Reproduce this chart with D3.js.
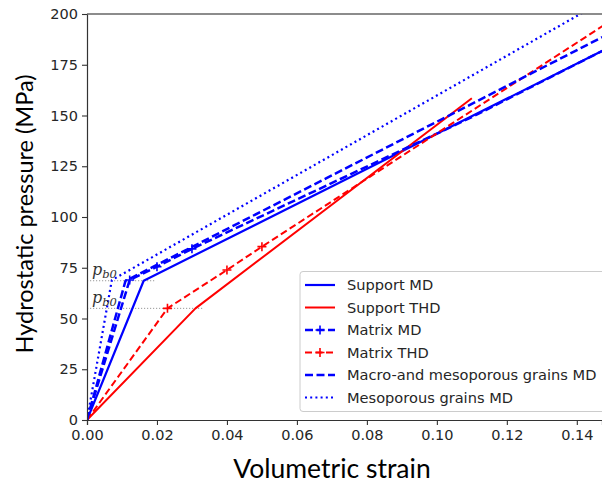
<!DOCTYPE html>
<html><head><meta charset="utf-8">
<script src="https://cdn.jsdelivr.net/npm/d3@7"></script>
<style>body{margin:0;background:#fff}svg{display:block}</style>
</head><body>
<svg id="c" width="602" height="484"></svg>
<script>
// ---- data ----
const xTicks = [0, 0.02, 0.04, 0.06, 0.08, 0.10, 0.12, 0.14];
const yTicks = [0, 25, 50, 75, 100, 125, 150, 175, 200];

const supportMD_x = [0, 0.0162, 0.150];
const supportMD_y = [0, 68.6, 184.2];

const supportTHD_x = [0, 0.031, 0.110];
const supportTHD_y = [0, 55, 158.5];

const matrixMD_x = [0, 0.0122, 0.020, 0.030, 0.110, 0.150];
const matrixMD_y = [0, 69.0, 75.5, 84.3, 149.2, 184.2];
const matrixMD_markX = [0.0122, 0.020, 0.030];
const matrixMD_markY = [69.0, 75.5, 84.3];

const matrixTHD_x = [0, 0.023, 0.040, 0.050, 0.150];
const matrixTHD_y = [0, 55.0, 73.9, 85.4, 197.0];
const matrixTHD_markX = [0.023, 0.040, 0.050];
const matrixTHD_markY = [55.0, 73.9, 85.4];

const macroMD_x = [0, 0.011, 0.150];
const macroMD_y = [0, 68.5, 191.0];

const mesoMD_x = [0, 0.0071, 0.150];
const mesoMD_y = [0, 68.9, 208.8];

const pb0_levels = [68.6, 55];
const pb0_ends = [0.0195, 0.033];

const legendLabels = ["Support MD", "Support THD", "Matrix MD", "Matrix THD",
  "Macro-and mesoporous grains MD", "Mesoporous grains MD"];

// ---- layout ----
const svg = d3.select("#c");
const L = 87, R = 602, T = 14, B = 420;
const x = d3.scaleLinear().domain([0, 0.1472]).range([L, R]);
const y = d3.scaleLinear().domain([0, 200]).range([B, T]);

const BLUE = "#0000ff", RED = "#ff0000";
const series = [
  {xs: supportMD_x, ys: supportMD_y, color: BLUE, dash: null, w: 2.2},
  {xs: supportTHD_x, ys: supportTHD_y, color: RED, dash: null, w: 2},
  {xs: matrixMD_x, ys: matrixMD_y, color: BLUE, dash: "8,3.5", w: 2.5, mx: matrixMD_markX, my: matrixMD_markY},
  {xs: matrixTHD_x, ys: matrixTHD_y, color: RED, dash: "7,3.5", w: 2, mx: matrixTHD_markX, my: matrixTHD_markY},
  {xs: macroMD_x, ys: macroMD_y, color: BLUE, dash: "8,3.5", w: 2.5},
  {xs: mesoMD_x, ys: mesoMD_y, color: BLUE, dash: "2,3.2", w: 2.2}
];

svg.append("defs").append("clipPath").attr("id", "clip")
  .append("rect").attr("x", L).attr("y", T).attr("width", R - L).attr("height", B - T);

const plot = svg.append("g").attr("clip-path", "url(#clip)");

// pb0 reference lines
pb0_levels.forEach((lv, i) => {
  plot.append("line").attr("x1", x(0)).attr("x2", x(pb0_ends[i]))
    .attr("y1", y(lv)).attr("y2", y(lv))
    .attr("stroke", "#999").attr("stroke-width", 1).attr("stroke-dasharray", "1.2,1.8");
});

const line = d3.line().x(d => x(d[0])).y(d => y(d[1]));
series.forEach(s => {
  const pts = s.xs.map((v, i) => [v, s.ys[i]]);
  plot.append("path").attr("d", line(pts)).attr("fill", "none")
    .attr("stroke", s.color).attr("stroke-width", s.w)
    .attr("stroke-linejoin", "round")
    .attr("stroke-dasharray", s.dash);
  if (s.mx) {
    s.mx.forEach((mv, i) => {
      const cx = x(mv), cy = y(s.my[i]);
      plot.append("path").attr("d", `M${cx-4.5},${cy}H${cx+4.5}M${cx},${cy-4.5}V${cy+4.5}`)
        .attr("stroke", s.color).attr("stroke-width", 1.6);
    });
  }
});

// p_b0 labels
[[92, 275], [92, 303]].forEach(p => {
  const t = svg.append("text").attr("x", p[0]).attr("y", p[1])
    .attr("font-family", "DejaVu Serif").attr("font-size", 16).attr("fill", "#333");
  t.append("tspan").attr("font-style", "italic").text("p");
  t.append("tspan").attr("font-style", "italic").attr("font-size", 11.5).attr("dy", 3).text("b0");
});

// axes
const FONT = "DejaVu Sans";
const xAxis = svg.append("g").attr("transform", `translate(0,${B})`)
  .call(d3.axisBottom(x).tickValues(xTicks).tickFormat(d3.format(".2f")).tickSize(5).tickPadding(5));
const yAxis = svg.append("g").attr("transform", `translate(${L},0)`)
  .call(d3.axisLeft(y).tickValues(yTicks).tickFormat(d3.format("d")).tickSize(5).tickPadding(4));
[xAxis, yAxis].forEach(a => {
  a.selectAll("text").attr("font-family", FONT).attr("font-size", 14.5).attr("fill", "#262626");
  a.selectAll("line").attr("stroke", "#333").attr("stroke-width", 1.1);
  a.select(".domain").attr("stroke", "#333").attr("stroke-width", 1.2);
});
svg.append("line").attr("x1", L).attr("x2", R).attr("y1", T).attr("y2", T)
  .attr("stroke", "#666").attr("stroke-width", 1.5);

// axis titles
svg.append("text").attr("x", 332).attr("y", 478).attr("text-anchor", "middle")
  .attr("font-family", "Lato").attr("font-size", 26.5).attr("fill", "#000").text("Volumetric strain");
svg.append("text").attr("transform", "translate(33,214) rotate(-90)").attr("text-anchor", "middle")
  .attr("font-family", "Lato").attr("font-size", 23.5).attr("fill", "#000").text("Hydrostatic pressure (MPa)");

// legend
const lg = svg.append("g");
lg.append("rect").attr("x", 300).attr("y", 271.5).attr("width", 320).attr("height", 140)
  .attr("rx", 3).attr("fill", "#fff").attr("fill-opacity", 0.85)
  .attr("stroke", "#ccc").attr("stroke-width", 1);
const rowY = [285, 307.5, 330, 352.5, 375, 397.5];
series.forEach((s, i) => {
  const yy = rowY[i];
  lg.append("line").attr("x1", 305).attr("x2", 335).attr("y1", yy).attr("y2", yy)
    .attr("stroke", s.color).attr("stroke-width", s.w).attr("stroke-dasharray", s.dash);
  if (s.mx) {
    lg.append("path").attr("d", `M315.5,${yy}H324.5M320,${yy-4.5}V${yy+4.5}`)
      .attr("stroke", s.color).attr("stroke-width", 1.6);
  }
  lg.append("text").attr("x", 347).attr("y", yy + 5).attr("font-family", FONT)
    .attr("font-size", 14.6).attr("fill", "#262626").text(legendLabels[i]);
});
</script>
</body></html>
